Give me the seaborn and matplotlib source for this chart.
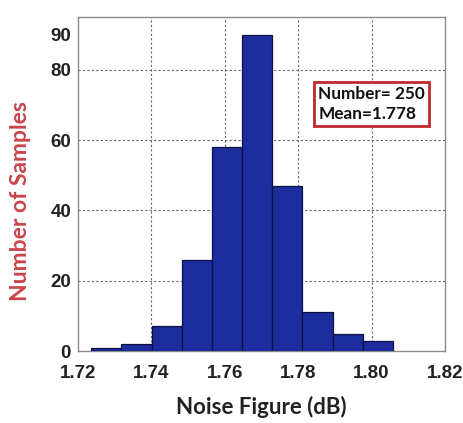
import numpy as np
import pandas as pd
import matplotlib
matplotlib.use("Agg")
import matplotlib.pyplot as plt
import seaborn as sns

# Histogram of measured noise figure over 250 samples
bin_start = 1.7236
bin_width = 0.00822
counts = [1, 2, 7, 26, 58, 90, 47, 11, 5, 3]
x_ticks = [1.72, 1.74, 1.76, 1.78, 1.80, 1.82]
x_tick_labels = ["1.72", "1.74", "1.76", "1.78", "1.80", "1.82"]
y_ticks = [0, 20, 40, 60, 80, 90]
n_samples = 250
mean_nf = 1.778

n_bins = len(counts)
bin_end = bin_start + bin_width * n_bins
centers = bin_start + bin_width * (np.arange(n_bins) + 0.5)
df = pd.DataFrame({"nf": centers, "count": counts})

sns.set_theme(style="white")
plt.rcParams["font.family"] = ["Liberation Sans", "DejaVu Sans"]

fig = plt.figure(figsize=(4.64, 4.23), dpi=100)
ax = fig.add_axes([0.168, 0.170, 0.791, 0.790])

sns.histplot(data=df, x="nf", weights="count", bins=n_bins,
             binrange=(bin_start, bin_end), ax=ax,
             color="#1d2d9e", alpha=1.0, edgecolor="#0c1040", linewidth=0.9,
             zorder=3)

ax.set_xlim(1.72, 1.82)
ax.set_ylim(0, 95)
ax.set_xticks(x_ticks)
ax.set_xticklabels(x_tick_labels)
ax.set_yticks(y_ticks)

ax.grid(True, color="#666666", linestyle=(0, (2, 2)), linewidth=0.8, zorder=0)
# interior gridlines only
for gl, v in zip(ax.xaxis.get_gridlines(), x_ticks):
    gl.set_visible(v not in (1.72, 1.82))
for gl, v in zip(ax.yaxis.get_gridlines(), y_ticks):
    gl.set_visible(v not in (0, 90))
ax.set_axisbelow(True)

for s in ax.spines.values():
    s.set_color("#8a8a8a")
    s.set_linewidth(1.0)

ax.tick_params(axis="both", length=0, labelsize=13.5, colors="#222222")
ax.tick_params(axis="x", pad=10)
ax.tick_params(axis="y", pad=5)
for lab in ax.get_xticklabels() + ax.get_yticklabels():
    lab.set_fontweight("bold")

ax.set_xlabel("Noise Figure (dB)", fontsize=16, fontweight="bold",
              family=["Lato", "DejaVu Sans"], color="#222222", labelpad=10)
ax.set_ylabel("Number of Samples", fontsize=16.5, fontweight="bold",
              family=["Lato", "DejaVu Sans"], color="#c8464c")
ax.yaxis.set_label_coords(-0.128, 0.45)

ax.text(1.7855, 70.3, f"Number= {n_samples}\nMean={mean_nf}",
        ha="left", va="center", multialignment="left",
        fontsize=12.4, fontweight="bold", family=["Lato", "DejaVu Sans"],
        color="#111111", linespacing=1.3, zorder=5,
        bbox=dict(boxstyle="square,pad=0.25", facecolor="white",
                  edgecolor="#c0282d", linewidth=2.0))

fig.savefig("out.png", dpi=100)
